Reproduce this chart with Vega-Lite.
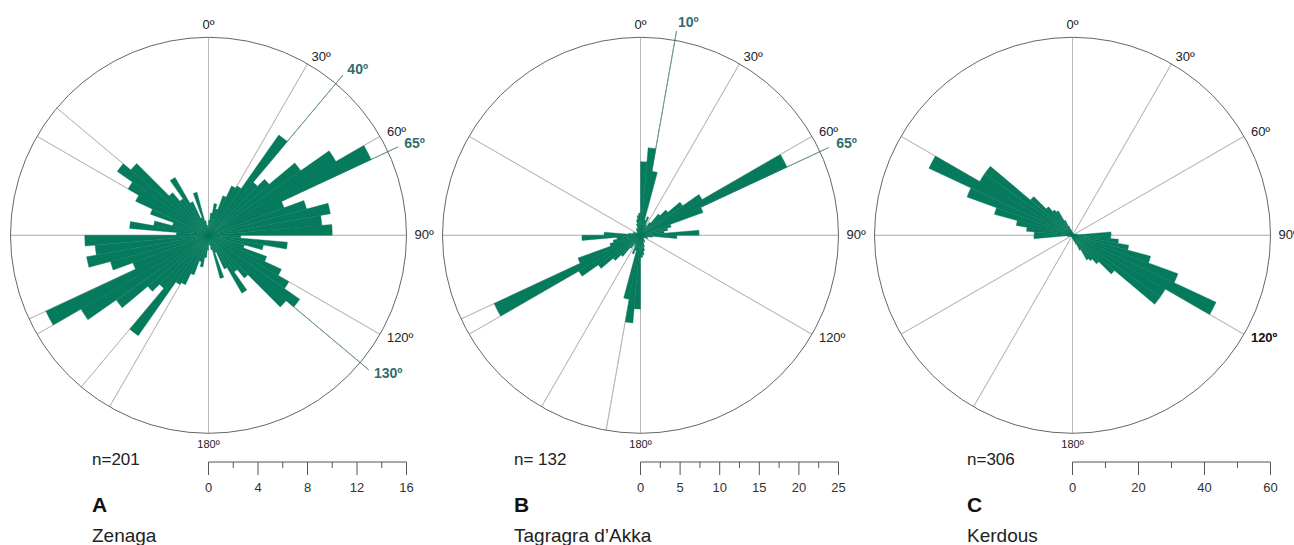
{
 "$schema": "https://vega.github.io/schema/vega-lite/v6.json",
 "padding": 0,
 "background": "white",
 "spacing": 15,
 "bounds": "flush",
 "config": {"view": {"stroke": null}, "font": "Liberation Sans"},
 "datasets": {
  "roseA": [
   {"from":0,"to":5,"count":1.2},{"from":5,"to":10,"count":1.8},{"from":10,"to":15,"count":2.6},{"from":15,"to":20,"count":2.2},
   {"from":20,"to":25,"count":3.4},{"from":25,"to":30,"count":4.4},{"from":30,"to":35,"count":4.6},{"from":35,"to":40,"count":9.9},
   {"from":40,"to":45,"count":5.6},{"from":45,"to":50,"count":6.4},{"from":50,"to":55,"count":9.1},{"from":55,"to":60,"count":11.9},
   {"from":60,"to":65,"count":14.5},{"from":65,"to":70,"count":6.5},{"from":70,"to":75,"count":8.2},{"from":75,"to":80,"count":10.0},
   {"from":80,"to":85,"count":9.2},{"from":85,"to":90,"count":10.0},{"from":90,"to":95,"count":2.6},{"from":95,"to":100,"count":6.4},
   {"from":100,"to":105,"count":4.5},{"from":105,"to":110,"count":3.0},{"from":110,"to":115,"count":5.0},{"from":115,"to":120,"count":6.5},
   {"from":120,"to":125,"count":7.5},{"from":125,"to":130,"count":9.0},{"from":130,"to":135,"count":8.2},{"from":135,"to":140,"count":4.5},
   {"from":140,"to":145,"count":3.6},{"from":145,"to":150,"count":5.4},{"from":150,"to":155,"count":3.0},{"from":155,"to":160,"count":1.5},
   {"from":160,"to":165,"count":3.6},{"from":165,"to":170,"count":1.2},{"from":170,"to":175,"count":0.8},{"from":175,"to":180,"count":0.5}
  ],
  "roseB": [
   {"from":0,"to":5,"count":9.3},{"from":5,"to":10,"count":11.1},{"from":10,"to":15,"count":8.2},{"from":15,"to":20,"count":2.0},
   {"from":20,"to":25,"count":2.5},{"from":25,"to":30,"count":1.5},{"from":30,"to":35,"count":1.2},{"from":35,"to":40,"count":2.0},
   {"from":40,"to":45,"count":3.5},{"from":45,"to":50,"count":4.5},{"from":50,"to":55,"count":6.5},{"from":55,"to":60,"count":9.0},
   {"from":60,"to":65,"count":20.4},{"from":65,"to":70,"count":8.4},{"from":70,"to":75,"count":4.0},{"from":75,"to":80,"count":3.5},
   {"from":80,"to":85,"count":3.0},{"from":85,"to":90,"count":7.4},{"from":90,"to":95,"count":4.6},{"from":95,"to":100,"count":1.5},
   {"from":100,"to":105,"count":1.0},{"from":105,"to":110,"count":0.8},{"from":110,"to":115,"count":1.0},{"from":115,"to":120,"count":0.6},
   {"from":120,"to":125,"count":0.5},{"from":125,"to":130,"count":0.4},{"from":130,"to":135,"count":0.5},{"from":135,"to":140,"count":0.6},
   {"from":140,"to":145,"count":0.8},{"from":145,"to":150,"count":1.0},{"from":150,"to":155,"count":0.8},{"from":155,"to":160,"count":1.0},
   {"from":160,"to":165,"count":1.5},{"from":165,"to":170,"count":2.0},{"from":170,"to":175,"count":2.5},{"from":175,"to":180,"count":2.8}
  ],
  "roseC": [
   {"from":0,"to":5,"count":1.0},{"from":5,"to":10,"count":0.5},{"from":10,"to":15,"count":0.5},{"from":15,"to":20,"count":0.5},
   {"from":20,"to":25,"count":0.5},{"from":25,"to":30,"count":0.5},{"from":30,"to":35,"count":0.5},{"from":35,"to":40,"count":0.5},
   {"from":40,"to":45,"count":0.5},{"from":45,"to":50,"count":0.5},{"from":50,"to":55,"count":0.5},{"from":55,"to":60,"count":0.5},
   {"from":60,"to":65,"count":0.5},{"from":65,"to":70,"count":0.5},{"from":70,"to":75,"count":1.0},{"from":75,"to":80,"count":1.5},
   {"from":80,"to":85,"count":1.5},{"from":85,"to":90,"count":11.7},{"from":90,"to":95,"count":11.6},{"from":95,"to":100,"count":14.0},
   {"from":100,"to":105,"count":17.3},{"from":105,"to":110,"count":24.5},{"from":110,"to":115,"count":34.0},{"from":115,"to":120,"count":48.0},
   {"from":120,"to":125,"count":32.5},{"from":125,"to":130,"count":32.5},{"from":130,"to":135,"count":16.6},{"from":135,"to":140,"count":11.3},
   {"from":140,"to":145,"count":9.4},{"from":145,"to":150,"count":8.6},{"from":150,"to":155,"count":5.0},{"from":155,"to":160,"count":3.0},
   {"from":160,"to":165,"count":2.0},{"from":165,"to":170,"count":1.5},{"from":170,"to":175,"count":1.0},{"from":175,"to":180,"count":0.5}
  ],
  "spokesA": [{"deg":0},{"deg":30},{"deg":60},{"deg":90},{"deg":120},{"deg":180},{"deg":210},{"deg":220},{"deg":240},{"deg":245},{"deg":270},{"deg":300},{"deg":310}],
  "spokesB": [{"deg":0},{"deg":30},{"deg":60},{"deg":90},{"deg":120},{"deg":180},{"deg":190},{"deg":210},{"deg":240},{"deg":245},{"deg":270},{"deg":300}],
  "spokesC": [{"deg":0},{"deg":30},{"deg":60},{"deg":90},{"deg":120},{"deg":180},{"deg":210},{"deg":240},{"deg":270},{"deg":300}],
  "hiA": [{"deg":40,"label":"40º"},{"deg":65,"label":"65º"},{"deg":130,"label":"130º"}],
  "hiB": [{"deg":10,"label":"10º"},{"deg":65,"label":"65º"}],
  "labels": [{"deg":0,"label":"0º"},{"deg":30,"label":"30º"},{"deg":60,"label":"60º"},{"deg":90,"label":"90º"},{"deg":120,"label":"120º"},{"deg":180,"label":"180º"}],
  "ticksA": [{"v":0,"major":true},{"v":2,"major":false},{"v":4,"major":true},{"v":6,"major":false},{"v":8,"major":true},{"v":10,"major":false},{"v":12,"major":true},{"v":14,"major":false},{"v":16,"major":true}],
  "ticksB": [{"v":0,"major":true},{"v":2.5,"major":false},{"v":5,"major":true},{"v":7.5,"major":false},{"v":10,"major":true},{"v":12.5,"major":false},{"v":15,"major":true},{"v":17.5,"major":false},{"v":20,"major":true},{"v":22.5,"major":false},{"v":25,"major":true}],
  "ticksC": [{"v":0,"major":true},{"v":10,"major":false},{"v":20,"major":true},{"v":30,"major":false},{"v":40,"major":true},{"v":50,"major":false},{"v":60,"major":true}],
  "infoA": [{"role":"n","label":"n=201"},{"role":"letter","label":"A"},{"role":"site","label":"Zenaga"}],
  "infoB": [{"role":"n","label":"n= 132"},{"role":"letter","label":"B"},{"role":"site","label":"Tagragra d’Akka"}],
  "infoC": [{"role":"n","label":"n=306"},{"role":"letter","label":"C"},{"role":"site","label":"Kerdous"}]
 },
 "hconcat": [
  {
   "width": 417, "height": 545,
   "layer": [
    {"data": {"name": "spokesA"}, "mark": {"type": "arc", "filled": false, "stroke": "#b5b5b5", "strokeWidth": 0.8},
     "encoding": {"x": {"datum": 0, "type": "quantitative", "scale": {"domain": [-16.848, 16.848], "nice": false, "zero": false}, "axis": null},
      "y": {"datum": 0, "type": "quantitative", "scale": {"domain": [-25.026, 19.014], "nice": false, "zero": false}, "axis": null},
      "theta": {"field": "deg", "type": "quantitative", "scale": {"domain": [0, 360], "range": [0, 6.283185307179586]}, "stack": null}, "theta2": {"field": "deg"},
      "radius": {"datum": 16, "type": "quantitative", "scale": {"type": "linear", "domain": [0, 16], "range": [0, 198], "zero": true, "nice": false}}}},
    {"data": {"name": "hiA"}, "mark": {"type": "arc", "filled": false, "stroke": "#6f9696", "strokeWidth": 0.9},
     "encoding": {"x": {"datum": 0, "type": "quantitative", "scale": {"domain": [-16.848, 16.848], "nice": false, "zero": false}, "axis": null},
      "y": {"datum": 0, "type": "quantitative", "scale": {"domain": [-25.026, 19.014], "nice": false, "zero": false}, "axis": null},
      "theta": {"field": "deg", "type": "quantitative", "scale": {"domain": [0, 360], "range": [0, 6.283185307179586]}, "stack": null}, "theta2": {"field": "deg"},
      "radius": {"datum": 16.89, "type": "quantitative", "scale": {"type": "linear", "domain": [0, 16], "range": [0, 198], "zero": true, "nice": false}}}},
    {"data": {"name": "roseA"}, "mark": {"type": "arc", "color": "#057a5c", "stroke": "#057a5c", "strokeWidth": 0.4},
     "encoding": {"x": {"datum": 0, "type": "quantitative", "scale": {"domain": [-16.848, 16.848], "nice": false, "zero": false}, "axis": null},
      "y": {"datum": 0, "type": "quantitative", "scale": {"domain": [-25.026, 19.014], "nice": false, "zero": false}, "axis": null},
      "theta": {"field": "from", "type": "quantitative", "scale": {"domain": [0, 360], "range": [0, 6.283185307179586]}, "stack": null}, "theta2": {"field": "to"},
      "radius": {"field": "count", "type": "quantitative", "scale": {"type": "linear", "domain": [0, 16], "range": [0, 198], "zero": true, "nice": false}}}},
    {"data": {"name": "roseA"}, "mark": {"type": "arc", "color": "#057a5c", "stroke": "#057a5c", "strokeWidth": 0.4, "thetaOffset": 3.141592653589793, "theta2Offset": 3.141592653589793},
     "encoding": {"x": {"datum": 0, "type": "quantitative", "scale": {"domain": [-16.848, 16.848], "nice": false, "zero": false}, "axis": null},
      "y": {"datum": 0, "type": "quantitative", "scale": {"domain": [-25.026, 19.014], "nice": false, "zero": false}, "axis": null},
      "theta": {"field": "from", "type": "quantitative", "scale": {"domain": [0, 360], "range": [0, 6.283185307179586]}, "stack": null}, "theta2": {"field": "to"},
      "radius": {"field": "count", "type": "quantitative", "scale": {"type": "linear", "domain": [0, 16], "range": [0, 198], "zero": true, "nice": false}}}},
    {"data": {"values": [{}]}, "mark": {"type": "arc", "filled": false, "stroke": "#666666", "strokeWidth": 1},
     "encoding": {"x": {"datum": 0, "type": "quantitative", "scale": {"domain": [-16.848, 16.848], "nice": false, "zero": false}, "axis": null},
      "y": {"datum": 0, "type": "quantitative", "scale": {"domain": [-25.026, 19.014], "nice": false, "zero": false}, "axis": null},
      "theta": {"datum": 0, "type": "quantitative", "scale": {"domain": [0, 360], "range": [0, 6.283185307179586]}, "stack": null}, "theta2": {"datum": 360},
      "radius": {"datum": 16, "type": "quantitative", "scale": {"type": "linear", "domain": [0, 16], "range": [0, 198], "zero": true, "nice": false}}}},
    {"data": {"name": "labels"}, "transform": [{"filter": "datum.deg == 0"}], "mark": {"type": "text", "align": "center", "baseline": "middle", "fontSize": 13, "color": "#222222"},
     "encoding": {"x": {"datum": 0, "type": "quantitative", "scale": {"domain": [-16.848, 16.848], "nice": false, "zero": false}, "axis": null},
      "y": {"datum": 0, "type": "quantitative", "scale": {"domain": [-25.026, 19.014], "nice": false, "zero": false}, "axis": null},
      "theta": {"field": "deg", "type": "quantitative", "scale": {"domain": [0, 360], "range": [0, 6.283185307179586]}, "stack": null},
      "radius": {"datum": 16.97, "type": "quantitative", "scale": {"type": "linear", "domain": [0, 16], "range": [0, 198], "zero": true, "nice": false}}, "text": {"field": "label"}}},
    {"data": {"name": "labels"}, "transform": [{"filter": "datum.deg == 180"}], "mark": {"type": "text", "align": "center", "baseline": "middle", "fontSize": 11, "color": "#222222"},
     "encoding": {"x": {"datum": 0, "type": "quantitative", "scale": {"domain": [-16.848, 16.848], "nice": false, "zero": false}, "axis": null},
      "y": {"datum": 0, "type": "quantitative", "scale": {"domain": [-25.026, 19.014], "nice": false, "zero": false}, "axis": null},
      "theta": {"field": "deg", "type": "quantitative", "scale": {"domain": [0, 360], "range": [0, 6.283185307179586]}, "stack": null},
      "radius": {"datum": 16.97, "type": "quantitative", "scale": {"type": "linear", "domain": [0, 16], "range": [0, 198], "zero": true, "nice": false}}, "text": {"field": "label"}}},
    {"data": {"name": "labels"}, "transform": [{"filter": "datum.deg > 0 && datum.deg < 180"}], "mark": {"type": "text", "align": "left", "baseline": "middle", "fontSize": 13, "color": "#222222"},
     "encoding": {"x": {"datum": 0, "type": "quantitative", "scale": {"domain": [-16.848, 16.848], "nice": false, "zero": false}, "axis": null},
      "y": {"datum": 0, "type": "quantitative", "scale": {"domain": [-25.026, 19.014], "nice": false, "zero": false}, "axis": null},
      "theta": {"field": "deg", "type": "quantitative", "scale": {"domain": [0, 360], "range": [0, 6.283185307179586]}, "stack": null},
      "radius": {"datum": 16.646, "type": "quantitative", "scale": {"type": "linear", "domain": [0, 16], "range": [0, 198], "zero": true, "nice": false}}, "text": {"field": "label"}}},
    {"data": {"name": "hiA"}, "mark": {"type": "text", "align": "left", "baseline": "middle", "fontSize": 14, "fontWeight": "bold", "color": "#2f6e71"},
     "encoding": {"x": {"datum": 0, "type": "quantitative", "scale": {"domain": [-16.848, 16.848], "nice": false, "zero": false}, "axis": null},
      "y": {"datum": 0, "type": "quantitative", "scale": {"domain": [-25.026, 19.014], "nice": false, "zero": false}, "axis": null},
      "theta": {"field": "deg", "type": "quantitative", "scale": {"domain": [0, 360], "range": [0, 6.283185307179586]}, "stack": null},
      "radius": {"datum": 17.455, "type": "quantitative", "scale": {"type": "linear", "domain": [0, 16], "range": [0, 198], "zero": true, "nice": false}}, "text": {"field": "label"}}},
    {"data": {"values": [{}]}, "mark": {"type": "rule", "color": "#555555", "strokeWidth": 1},
     "encoding": {"x": {"datum": 0, "type": "quantitative", "scale": {"domain": [-16.848, 16.848], "nice": false, "zero": false}, "axis": null}, "x2": {"datum": 16},
      "y": {"datum": -18.32, "type": "quantitative", "scale": {"domain": [-25.026, 19.014], "nice": false, "zero": false}, "axis": null}}},
    {"data": {"name": "ticksA"}, "transform": [{"filter": "datum.major"}], "mark": {"type": "rule", "color": "#555555", "strokeWidth": 1},
     "encoding": {"x": {"field": "v", "type": "quantitative", "scale": {"domain": [-16.848, 16.848], "nice": false, "zero": false}, "axis": null},
      "y": {"datum": -18.32, "type": "quantitative", "scale": {"domain": [-25.026, 19.014], "nice": false, "zero": false}, "axis": null}, "y2": {"datum": -19.37}}},
    {"data": {"name": "ticksA"}, "transform": [{"filter": "!datum.major"}], "mark": {"type": "rule", "color": "#555555", "strokeWidth": 1},
     "encoding": {"x": {"field": "v", "type": "quantitative", "scale": {"domain": [-16.848, 16.848], "nice": false, "zero": false}, "axis": null},
      "y": {"datum": -18.32, "type": "quantitative", "scale": {"domain": [-25.026, 19.014], "nice": false, "zero": false}, "axis": null}, "y2": {"datum": -18.804}}},
    {"data": {"name": "ticksA"}, "transform": [{"filter": "datum.major"}], "mark": {"type": "text", "align": "center", "baseline": "alphabetic", "fontSize": 13, "color": "#333333"},
     "encoding": {"x": {"field": "v", "type": "quantitative", "scale": {"domain": [-16.848, 16.848], "nice": false, "zero": false}, "axis": null},
      "y": {"datum": -20.719, "type": "quantitative", "scale": {"domain": [-25.026, 19.014], "nice": false, "zero": false}, "axis": null}, "text": {"field": "v", "type": "quantitative"}}},
    {"data": {"name": "infoA"}, "transform": [{"filter": "datum.role == 'n'"}], "mark": {"type": "text", "align": "left", "baseline": "alphabetic", "fontSize": 17, "color": "#222222"},
     "encoding": {"x": {"datum": -9.414, "type": "quantitative", "scale": {"domain": [-16.848, 16.848], "nice": false, "zero": false}, "axis": null},
      "y": {"datum": -18.562, "type": "quantitative", "scale": {"domain": [-25.026, 19.014], "nice": false, "zero": false}, "axis": null}, "text": {"field": "label"}}},
    {"data": {"name": "infoA"}, "transform": [{"filter": "datum.role == 'letter'"}], "mark": {"type": "text", "align": "left", "baseline": "alphabetic", "fontSize": 21, "fontWeight": "bold", "color": "#111111"},
     "encoding": {"x": {"datum": -9.414, "type": "quantitative", "scale": {"domain": [-16.848, 16.848], "nice": false, "zero": false}, "axis": null},
      "y": {"datum": -22.335, "type": "quantitative", "scale": {"domain": [-25.026, 19.014], "nice": false, "zero": false}, "axis": null}, "text": {"field": "label"}}},
    {"data": {"name": "infoA"}, "transform": [{"filter": "datum.role == 'site'"}], "mark": {"type": "text", "align": "left", "baseline": "alphabetic", "fontSize": 19, "color": "#222222"},
     "encoding": {"x": {"datum": -9.414, "type": "quantitative", "scale": {"domain": [-16.848, 16.848], "nice": false, "zero": false}, "axis": null},
      "y": {"datum": -24.76, "type": "quantitative", "scale": {"domain": [-25.026, 19.014], "nice": false, "zero": false}, "axis": null}, "text": {"field": "label"}}}
   ]
  },
  {
   "width": 417, "height": 545,
   "layer": [
    {"data": {"name": "spokesB"}, "mark": {"type": "arc", "filled": false, "stroke": "#b5b5b5", "strokeWidth": 0.8},
     "encoding": {"x": {"datum": 0, "type": "quantitative", "scale": {"domain": [-26.326, 26.326], "nice": false, "zero": false}, "axis": null},
      "y": {"datum": 0, "type": "quantitative", "scale": {"domain": [-39.104, 29.71], "nice": false, "zero": false}, "axis": null},
      "theta": {"field": "deg", "type": "quantitative", "scale": {"domain": [0, 360], "range": [0, 6.283185307179586]}, "stack": null}, "theta2": {"field": "deg"},
      "radius": {"datum": 25, "type": "quantitative", "scale": {"type": "linear", "domain": [0, 25], "range": [0, 198], "zero": true, "nice": false}}}},
    {"data": {"name": "hiB"}, "mark": {"type": "arc", "filled": false, "stroke": "#6f9696", "strokeWidth": 0.9},
     "encoding": {"x": {"datum": 0, "type": "quantitative", "scale": {"domain": [-26.326, 26.326], "nice": false, "zero": false}, "axis": null},
      "y": {"datum": 0, "type": "quantitative", "scale": {"domain": [-39.104, 29.71], "nice": false, "zero": false}, "axis": null},
      "theta": {"field": "deg", "type": "quantitative", "scale": {"domain": [0, 360], "range": [0, 6.283185307179586]}, "stack": null}, "theta2": {"field": "deg"},
      "radius": {"datum": 26.2, "type": "quantitative", "scale": {"type": "linear", "domain": [0, 25], "range": [0, 198], "zero": true, "nice": false}}}},
    {"data": {"name": "roseB"}, "mark": {"type": "arc", "color": "#057a5c", "stroke": "#057a5c", "strokeWidth": 0.4},
     "encoding": {"x": {"datum": 0, "type": "quantitative", "scale": {"domain": [-26.326, 26.326], "nice": false, "zero": false}, "axis": null},
      "y": {"datum": 0, "type": "quantitative", "scale": {"domain": [-39.104, 29.71], "nice": false, "zero": false}, "axis": null},
      "theta": {"field": "from", "type": "quantitative", "scale": {"domain": [0, 360], "range": [0, 6.283185307179586]}, "stack": null}, "theta2": {"field": "to"},
      "radius": {"field": "count", "type": "quantitative", "scale": {"type": "linear", "domain": [0, 25], "range": [0, 198], "zero": true, "nice": false}}}},
    {"data": {"name": "roseB"}, "mark": {"type": "arc", "color": "#057a5c", "stroke": "#057a5c", "strokeWidth": 0.4, "thetaOffset": 3.141592653589793, "theta2Offset": 3.141592653589793},
     "encoding": {"x": {"datum": 0, "type": "quantitative", "scale": {"domain": [-26.326, 26.326], "nice": false, "zero": false}, "axis": null},
      "y": {"datum": 0, "type": "quantitative", "scale": {"domain": [-39.104, 29.71], "nice": false, "zero": false}, "axis": null},
      "theta": {"field": "from", "type": "quantitative", "scale": {"domain": [0, 360], "range": [0, 6.283185307179586]}, "stack": null}, "theta2": {"field": "to"},
      "radius": {"field": "count", "type": "quantitative", "scale": {"type": "linear", "domain": [0, 25], "range": [0, 198], "zero": true, "nice": false}}}},
    {"data": {"values": [{}]}, "mark": {"type": "arc", "filled": false, "stroke": "#666666", "strokeWidth": 1},
     "encoding": {"x": {"datum": 0, "type": "quantitative", "scale": {"domain": [-26.326, 26.326], "nice": false, "zero": false}, "axis": null},
      "y": {"datum": 0, "type": "quantitative", "scale": {"domain": [-39.104, 29.71], "nice": false, "zero": false}, "axis": null},
      "theta": {"datum": 0, "type": "quantitative", "scale": {"domain": [0, 360], "range": [0, 6.283185307179586]}, "stack": null}, "theta2": {"datum": 360},
      "radius": {"datum": 25, "type": "quantitative", "scale": {"type": "linear", "domain": [0, 25], "range": [0, 198], "zero": true, "nice": false}}}},
    {"data": {"name": "labels"}, "transform": [{"filter": "datum.deg == 0"}], "mark": {"type": "text", "align": "center", "baseline": "middle", "fontSize": 13, "color": "#222222"},
     "encoding": {"x": {"datum": 0, "type": "quantitative", "scale": {"domain": [-26.326, 26.326], "nice": false, "zero": false}, "axis": null},
      "y": {"datum": 0, "type": "quantitative", "scale": {"domain": [-39.104, 29.71], "nice": false, "zero": false}, "axis": null},
      "theta": {"field": "deg", "type": "quantitative", "scale": {"domain": [0, 360], "range": [0, 6.283185307179586]}, "stack": null},
      "radius": {"datum": 26.515, "type": "quantitative", "scale": {"type": "linear", "domain": [0, 25], "range": [0, 198], "zero": true, "nice": false}}, "text": {"field": "label"}}},
    {"data": {"name": "labels"}, "transform": [{"filter": "datum.deg == 180"}], "mark": {"type": "text", "align": "center", "baseline": "middle", "fontSize": 11, "color": "#222222"},
     "encoding": {"x": {"datum": 0, "type": "quantitative", "scale": {"domain": [-26.326, 26.326], "nice": false, "zero": false}, "axis": null},
      "y": {"datum": 0, "type": "quantitative", "scale": {"domain": [-39.104, 29.71], "nice": false, "zero": false}, "axis": null},
      "theta": {"field": "deg", "type": "quantitative", "scale": {"domain": [0, 360], "range": [0, 6.283185307179586]}, "stack": null},
      "radius": {"datum": 26.515, "type": "quantitative", "scale": {"type": "linear", "domain": [0, 25], "range": [0, 198], "zero": true, "nice": false}}, "text": {"field": "label"}}},
    {"data": {"name": "labels"}, "transform": [{"filter": "datum.deg > 0 && datum.deg < 180"}], "mark": {"type": "text", "align": "left", "baseline": "middle", "fontSize": 13, "color": "#222222"},
     "encoding": {"x": {"datum": 0, "type": "quantitative", "scale": {"domain": [-26.326, 26.326], "nice": false, "zero": false}, "axis": null},
      "y": {"datum": 0, "type": "quantitative", "scale": {"domain": [-39.104, 29.71], "nice": false, "zero": false}, "axis": null},
      "theta": {"field": "deg", "type": "quantitative", "scale": {"domain": [0, 360], "range": [0, 6.283185307179586]}, "stack": null},
      "radius": {"datum": 26.01, "type": "quantitative", "scale": {"type": "linear", "domain": [0, 25], "range": [0, 198], "zero": true, "nice": false}}, "text": {"field": "label"}}},
    {"data": {"name": "hiB"}, "mark": {"type": "text", "align": "left", "baseline": "middle", "fontSize": 14, "fontWeight": "bold", "color": "#2f6e71"},
     "encoding": {"x": {"datum": 0, "type": "quantitative", "scale": {"domain": [-26.326, 26.326], "nice": false, "zero": false}, "axis": null},
      "y": {"datum": 0, "type": "quantitative", "scale": {"domain": [-39.104, 29.71], "nice": false, "zero": false}, "axis": null},
      "theta": {"field": "deg", "type": "quantitative", "scale": {"domain": [0, 360], "range": [0, 6.283185307179586]}, "stack": null},
      "radius": {"datum": 27.27, "type": "quantitative", "scale": {"type": "linear", "domain": [0, 25], "range": [0, 198], "zero": true, "nice": false}}, "text": {"field": "label"}}},
    {"data": {"values": [{}]}, "mark": {"type": "rule", "color": "#555555", "strokeWidth": 1},
     "encoding": {"x": {"datum": 0, "type": "quantitative", "scale": {"domain": [-26.326, 26.326], "nice": false, "zero": false}, "axis": null}, "x2": {"datum": 25},
      "y": {"datum": -28.624, "type": "quantitative", "scale": {"domain": [-39.104, 29.71], "nice": false, "zero": false}, "axis": null}}},
    {"data": {"name": "ticksB"}, "transform": [{"filter": "datum.major"}], "mark": {"type": "rule", "color": "#555555", "strokeWidth": 1},
     "encoding": {"x": {"field": "v", "type": "quantitative", "scale": {"domain": [-26.326, 26.326], "nice": false, "zero": false}, "axis": null},
      "y": {"datum": -28.624, "type": "quantitative", "scale": {"domain": [-39.104, 29.71], "nice": false, "zero": false}, "axis": null}, "y2": {"datum": -30.265}}},
    {"data": {"name": "ticksB"}, "transform": [{"filter": "!datum.major"}], "mark": {"type": "rule", "color": "#555555", "strokeWidth": 1},
     "encoding": {"x": {"field": "v", "type": "quantitative", "scale": {"domain": [-26.326, 26.326], "nice": false, "zero": false}, "axis": null},
      "y": {"datum": -28.624, "type": "quantitative", "scale": {"domain": [-39.104, 29.71], "nice": false, "zero": false}, "axis": null}, "y2": {"datum": -29.381}}},
    {"data": {"name": "ticksB"}, "transform": [{"filter": "datum.major"}], "mark": {"type": "text", "align": "center", "baseline": "alphabetic", "fontSize": 13, "color": "#333333"},
     "encoding": {"x": {"field": "v", "type": "quantitative", "scale": {"domain": [-26.326, 26.326], "nice": false, "zero": false}, "axis": null},
      "y": {"datum": -32.374, "type": "quantitative", "scale": {"domain": [-39.104, 29.71], "nice": false, "zero": false}, "axis": null}, "text": {"field": "v", "type": "quantitative"}}},
    {"data": {"name": "infoB"}, "transform": [{"filter": "datum.role == 'n'"}], "mark": {"type": "text", "align": "left", "baseline": "alphabetic", "fontSize": 17, "color": "#222222"},
     "encoding": {"x": {"datum": -15.972, "type": "quantitative", "scale": {"domain": [-26.326, 26.326], "nice": false, "zero": false}, "axis": null},
      "y": {"datum": -29.003, "type": "quantitative", "scale": {"domain": [-39.104, 29.71], "nice": false, "zero": false}, "axis": null}, "text": {"field": "label"}}},
    {"data": {"name": "infoB"}, "transform": [{"filter": "datum.role == 'letter'"}], "mark": {"type": "text", "align": "left", "baseline": "alphabetic", "fontSize": 21, "fontWeight": "bold", "color": "#111111"},
     "encoding": {"x": {"datum": -15.972, "type": "quantitative", "scale": {"domain": [-26.326, 26.326], "nice": false, "zero": false}, "axis": null},
      "y": {"datum": -34.899, "type": "quantitative", "scale": {"domain": [-39.104, 29.71], "nice": false, "zero": false}, "axis": null}, "text": {"field": "label"}}},
    {"data": {"name": "infoB"}, "transform": [{"filter": "datum.role == 'site'"}], "mark": {"type": "text", "align": "left", "baseline": "alphabetic", "fontSize": 19, "color": "#222222"},
     "encoding": {"x": {"datum": -15.972, "type": "quantitative", "scale": {"domain": [-26.326, 26.326], "nice": false, "zero": false}, "axis": null},
      "y": {"datum": -38.687, "type": "quantitative", "scale": {"domain": [-39.104, 29.71], "nice": false, "zero": false}, "axis": null}, "text": {"field": "label"}}}
   ]
  },
  {
   "width": 417, "height": 545,
   "layer": [
    {"data": {"name": "spokesC"}, "mark": {"type": "arc", "filled": false, "stroke": "#b5b5b5", "strokeWidth": 0.8},
     "encoding": {"x": {"datum": 0, "type": "quantitative", "scale": {"domain": [-63.182, 63.182], "nice": false, "zero": false}, "axis": null},
      "y": {"datum": 0, "type": "quantitative", "scale": {"domain": [-93.848, 71.303], "nice": false, "zero": false}, "axis": null},
      "theta": {"field": "deg", "type": "quantitative", "scale": {"domain": [0, 360], "range": [0, 6.283185307179586]}, "stack": null}, "theta2": {"field": "deg"},
      "radius": {"datum": 60, "type": "quantitative", "scale": {"type": "linear", "domain": [0, 60], "range": [0, 198], "zero": true, "nice": false}}}},
    {"data": {"name": "roseC"}, "mark": {"type": "arc", "color": "#057a5c", "stroke": "#057a5c", "strokeWidth": 0.4},
     "encoding": {"x": {"datum": 0, "type": "quantitative", "scale": {"domain": [-63.182, 63.182], "nice": false, "zero": false}, "axis": null},
      "y": {"datum": 0, "type": "quantitative", "scale": {"domain": [-93.848, 71.303], "nice": false, "zero": false}, "axis": null},
      "theta": {"field": "from", "type": "quantitative", "scale": {"domain": [0, 360], "range": [0, 6.283185307179586]}, "stack": null}, "theta2": {"field": "to"},
      "radius": {"field": "count", "type": "quantitative", "scale": {"type": "linear", "domain": [0, 60], "range": [0, 198], "zero": true, "nice": false}}}},
    {"data": {"name": "roseC"}, "mark": {"type": "arc", "color": "#057a5c", "stroke": "#057a5c", "strokeWidth": 0.4, "thetaOffset": 3.141592653589793, "theta2Offset": 3.141592653589793},
     "encoding": {"x": {"datum": 0, "type": "quantitative", "scale": {"domain": [-63.182, 63.182], "nice": false, "zero": false}, "axis": null},
      "y": {"datum": 0, "type": "quantitative", "scale": {"domain": [-93.848, 71.303], "nice": false, "zero": false}, "axis": null},
      "theta": {"field": "from", "type": "quantitative", "scale": {"domain": [0, 360], "range": [0, 6.283185307179586]}, "stack": null}, "theta2": {"field": "to"},
      "radius": {"field": "count", "type": "quantitative", "scale": {"type": "linear", "domain": [0, 60], "range": [0, 198], "zero": true, "nice": false}}}},
    {"data": {"values": [{}]}, "mark": {"type": "arc", "filled": false, "stroke": "#666666", "strokeWidth": 1},
     "encoding": {"x": {"datum": 0, "type": "quantitative", "scale": {"domain": [-63.182, 63.182], "nice": false, "zero": false}, "axis": null},
      "y": {"datum": 0, "type": "quantitative", "scale": {"domain": [-93.848, 71.303], "nice": false, "zero": false}, "axis": null},
      "theta": {"datum": 0, "type": "quantitative", "scale": {"domain": [0, 360], "range": [0, 6.283185307179586]}, "stack": null}, "theta2": {"datum": 360},
      "radius": {"datum": 60, "type": "quantitative", "scale": {"type": "linear", "domain": [0, 60], "range": [0, 198], "zero": true, "nice": false}}}},
    {"data": {"name": "labels"}, "transform": [{"filter": "datum.deg == 0"}], "mark": {"type": "text", "align": "center", "baseline": "middle", "fontSize": 13, "color": "#222222"},
     "encoding": {"x": {"datum": 0, "type": "quantitative", "scale": {"domain": [-63.182, 63.182], "nice": false, "zero": false}, "axis": null},
      "y": {"datum": 0, "type": "quantitative", "scale": {"domain": [-93.848, 71.303], "nice": false, "zero": false}, "axis": null},
      "theta": {"field": "deg", "type": "quantitative", "scale": {"domain": [0, 360], "range": [0, 6.283185307179586]}, "stack": null},
      "radius": {"datum": 63.636, "type": "quantitative", "scale": {"type": "linear", "domain": [0, 60], "range": [0, 198], "zero": true, "nice": false}}, "text": {"field": "label"}}},
    {"data": {"name": "labels"}, "transform": [{"filter": "datum.deg == 180"}], "mark": {"type": "text", "align": "center", "baseline": "middle", "fontSize": 11, "color": "#222222"},
     "encoding": {"x": {"datum": 0, "type": "quantitative", "scale": {"domain": [-63.182, 63.182], "nice": false, "zero": false}, "axis": null},
      "y": {"datum": 0, "type": "quantitative", "scale": {"domain": [-93.848, 71.303], "nice": false, "zero": false}, "axis": null},
      "theta": {"field": "deg", "type": "quantitative", "scale": {"domain": [0, 360], "range": [0, 6.283185307179586]}, "stack": null},
      "radius": {"datum": 63.636, "type": "quantitative", "scale": {"type": "linear", "domain": [0, 60], "range": [0, 198], "zero": true, "nice": false}}, "text": {"field": "label"}}},
    {"data": {"name": "labels"}, "transform": [{"filter": "datum.deg > 0 && datum.deg < 120"}], "mark": {"type": "text", "align": "left", "baseline": "middle", "fontSize": 13, "color": "#222222"},
     "encoding": {"x": {"datum": 0, "type": "quantitative", "scale": {"domain": [-63.182, 63.182], "nice": false, "zero": false}, "axis": null},
      "y": {"datum": 0, "type": "quantitative", "scale": {"domain": [-93.848, 71.303], "nice": false, "zero": false}, "axis": null},
      "theta": {"field": "deg", "type": "quantitative", "scale": {"domain": [0, 360], "range": [0, 6.283185307179586]}, "stack": null},
      "radius": {"datum": 62.424, "type": "quantitative", "scale": {"type": "linear", "domain": [0, 60], "range": [0, 198], "zero": true, "nice": false}}, "text": {"field": "label"}}},
    {"data": {"name": "labels"}, "transform": [{"filter": "datum.deg == 120"}], "mark": {"type": "text", "align": "left", "baseline": "middle", "fontSize": 13, "fontWeight": "bold", "color": "#111111"},
     "encoding": {"x": {"datum": 0, "type": "quantitative", "scale": {"domain": [-63.182, 63.182], "nice": false, "zero": false}, "axis": null},
      "y": {"datum": 0, "type": "quantitative", "scale": {"domain": [-93.848, 71.303], "nice": false, "zero": false}, "axis": null},
      "theta": {"field": "deg", "type": "quantitative", "scale": {"domain": [0, 360], "range": [0, 6.283185307179586]}, "stack": null},
      "radius": {"datum": 62.424, "type": "quantitative", "scale": {"type": "linear", "domain": [0, 60], "range": [0, 198], "zero": true, "nice": false}}, "text": {"field": "label"}}},
    {"data": {"values": [{}]}, "mark": {"type": "rule", "color": "#555555", "strokeWidth": 1},
     "encoding": {"x": {"datum": 0, "type": "quantitative", "scale": {"domain": [-63.182, 63.182], "nice": false, "zero": false}, "axis": null}, "x2": {"datum": 60},
      "y": {"datum": -68.697, "type": "quantitative", "scale": {"domain": [-93.848, 71.303], "nice": false, "zero": false}, "axis": null}}},
    {"data": {"name": "ticksC"}, "transform": [{"filter": "datum.major"}], "mark": {"type": "rule", "color": "#555555", "strokeWidth": 1},
     "encoding": {"x": {"field": "v", "type": "quantitative", "scale": {"domain": [-63.182, 63.182], "nice": false, "zero": false}, "axis": null},
      "y": {"datum": -68.697, "type": "quantitative", "scale": {"domain": [-93.848, 71.303], "nice": false, "zero": false}, "axis": null}, "y2": {"datum": -72.636}}},
    {"data": {"name": "ticksC"}, "transform": [{"filter": "!datum.major"}], "mark": {"type": "rule", "color": "#555555", "strokeWidth": 1},
     "encoding": {"x": {"field": "v", "type": "quantitative", "scale": {"domain": [-63.182, 63.182], "nice": false, "zero": false}, "axis": null},
      "y": {"datum": -68.697, "type": "quantitative", "scale": {"domain": [-93.848, 71.303], "nice": false, "zero": false}, "axis": null}, "y2": {"datum": -70.515}}},
    {"data": {"name": "ticksC"}, "transform": [{"filter": "datum.major"}], "mark": {"type": "text", "align": "center", "baseline": "alphabetic", "fontSize": 13, "color": "#333333"},
     "encoding": {"x": {"field": "v", "type": "quantitative", "scale": {"domain": [-63.182, 63.182], "nice": false, "zero": false}, "axis": null},
      "y": {"datum": -77.697, "type": "quantitative", "scale": {"domain": [-93.848, 71.303], "nice": false, "zero": false}, "axis": null}, "text": {"field": "v", "type": "quantitative"}}},
    {"data": {"name": "infoC"}, "transform": [{"filter": "datum.role == 'n'"}], "mark": {"type": "text", "align": "left", "baseline": "alphabetic", "fontSize": 17, "color": "#222222"},
     "encoding": {"x": {"datum": -31.97, "type": "quantitative", "scale": {"domain": [-63.182, 63.182], "nice": false, "zero": false}, "axis": null},
      "y": {"datum": -69.606, "type": "quantitative", "scale": {"domain": [-93.848, 71.303], "nice": false, "zero": false}, "axis": null}, "text": {"field": "label"}}},
    {"data": {"name": "infoC"}, "transform": [{"filter": "datum.role == 'letter'"}], "mark": {"type": "text", "align": "left", "baseline": "alphabetic", "fontSize": 21, "fontWeight": "bold", "color": "#111111"},
     "encoding": {"x": {"datum": -31.97, "type": "quantitative", "scale": {"domain": [-63.182, 63.182], "nice": false, "zero": false}, "axis": null},
      "y": {"datum": -83.758, "type": "quantitative", "scale": {"domain": [-93.848, 71.303], "nice": false, "zero": false}, "axis": null}, "text": {"field": "label"}}},
    {"data": {"name": "infoC"}, "transform": [{"filter": "datum.role == 'site'"}], "mark": {"type": "text", "align": "left", "baseline": "alphabetic", "fontSize": 19, "color": "#222222"},
     "encoding": {"x": {"datum": -31.97, "type": "quantitative", "scale": {"domain": [-63.182, 63.182], "nice": false, "zero": false}, "axis": null},
      "y": {"datum": -92.848, "type": "quantitative", "scale": {"domain": [-93.848, 71.303], "nice": false, "zero": false}, "axis": null}, "text": {"field": "label"}}}
   ]
  }
 ]
}
